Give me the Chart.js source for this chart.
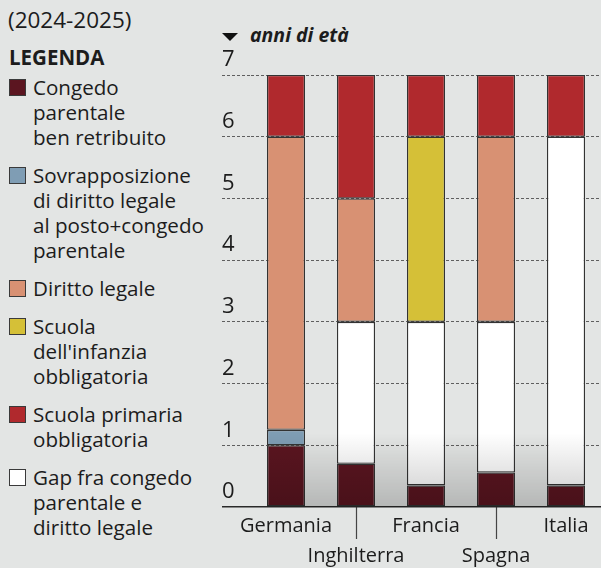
<!DOCTYPE html>
<html>
<head>
<meta charset="utf-8">
<script src="https://cdn.jsdelivr.net/npm/chart.js@4.4.1/dist/chart.umd.min.js"></script>
<style>
  html, body { margin: 0; padding: 0; }
  body {
    width: 601px; height: 568px; overflow: hidden; position: relative;
    background: #e3e5e4; color: #1c1c1c;
    font-family: 'Open Sans', sans-serif;
  }
  #periodo { position: absolute; left: 8px; top: 6px; font-size: 22.5px; line-height: 28px; }
  #legTitle { position: absolute; left: 9px; top: 45px; font-size: 20.5px; line-height: 25px; font-weight: 700; }
  #legenda { position: absolute; left: 9px; top: 75px; width: 200px; }
  .voce { position: relative; padding-left: 24px; font-size: 20.6px; line-height: 25px; margin-bottom: 13px; }
  .voce .box { position: absolute; left: 0; top: 4px; width: 15px; height: 15px; border: 1px solid #3a3a3a; }
  #unita { position: absolute; left: 222px; top: 22px; font-size: 19.5px; line-height: 26px; font-weight: 700; font-style: italic; }
  #unita .tri { display: inline-block; width: 0; height: 0; margin-right: 12px; vertical-align: middle;
    border-left: 8px solid transparent; border-right: 8px solid transparent; border-top: 8px solid #111; }
  #wrap { position: absolute; left: 205px; top: 0; width: 396px; height: 568px; }
</style>
</head>
<body>
<div id="periodo">(2024-2025)</div>
<div id="legTitle">LEGENDA</div>
<div id="legenda"></div>
<div id="unita"><span class="tri"></span>anni di età</div>
<div id="wrap"><canvas id="chart" width="396" height="568"></canvas></div>

<script>
// anni di età coperti da ciascuna voce (segmenti impilati, dal basso)
const paesi = ['Germania', 'Inghilterra', 'Francia', 'Spagna', 'Italia'];
const congedo         = [1.0, 0.7, 0.35, 0.56, 0.35];
const sovrapposizione = [0.25, null, null, null, null];
const gap             = [null, 2.3, 2.65, 2.44, 5.65];
const dirittoLegale   = [4.75, 2, null, 3, null];
const infanzia        = [null, null, 3, null, null];
const primaria        = [1, 2, 1, 1, 1];
const yMax = 7;

// ordine di impilamento
const serie = [
  {righe: ['Congedo', 'parentale', 'ben retribuito'], dati: congedo, colore: '#5b1520'},
  {righe: ['Sovrapposizione', 'di diritto legale', 'al posto+congedo', 'parentale'], dati: sovrapposizione, colore: '#7f9db4'},
  {righe: ['Gap fra congedo', 'parentale e', 'diritto legale'], dati: gap, colore: '#ffffff'},
  {righe: ['Diritto legale'], dati: dirittoLegale, colore: '#d89173'},
  {righe: ['Scuola', "dell'infanzia", 'obbligatoria'], dati: infanzia, colore: '#d5c037'},
  {righe: ['Scuola primaria', 'obbligatoria'], dati: primaria, colore: '#b0292d'},
];
const ordineLegenda = [0, 1, 3, 4, 5, 2];

// legenda html
const leg = document.getElementById('legenda');
ordineLegenda.forEach(i => {
  const s = serie[i];
  const d = document.createElement('div');
  d.className = 'voce';
  d.innerHTML = '<span class="box" style="background:' + s.colore + '"></span>' + s.righe.join('<br>');
  leg.appendChild(d);
});

Chart.defaults.font.family = "'Open Sans', sans-serif";
Chart.defaults.font.size = 20;
Chart.defaults.color = '#1c1c1c';

// ombreggiatura in fondo alle colonne
const sfumatura = {
  id: 'sfumatura',
  afterDatasetsDraw(chart) {
    const bars = chart.getDatasetMeta(0).data;
    if (!bars.length) return;
    const y = chart.scales.y;
    const x0 = bars[0].x - bars[0].width / 2;
    const x1 = bars[bars.length - 1].x + bars[bars.length - 1].width / 2;
    const top = y.getPixelForValue(1.2), bot = y.getPixelForValue(0);
    const ctx = chart.ctx;
    const g = ctx.createLinearGradient(0, top, 0, bot);
    g.addColorStop(0, 'rgba(0,0,0,0)');
    g.addColorStop(1, 'rgba(0,0,0,0.2)');
    ctx.save();
    ctx.fillStyle = g;
    ctx.fillRect(x0, top, x1 - x0, bot - top);
    ctx.restore();
  }
};

const zero = c => c.tick && c.tick.value === 0;

new Chart(document.getElementById('chart'), {
  type: 'bar',
  data: {
    labels: paesi,
    datasets: serie.map(s => ({
      label: s.righe.join(' '),
      data: s.dati,
      backgroundColor: s.colore,
      borderColor: '#333',
      borderWidth: 1.3,
      borderSkipped: false,
      barPercentage: 38 / 70,
      categoryPercentage: 1,
    }))
  },
  options: {
    responsive: false,
    animation: false,
    layout: {padding: {left: 17, top: 75, right: 0, bottom: 0}},
    plugins: {legend: {display: false}, tooltip: {enabled: true}},
    scales: {
      x: {
        stacked: true,
        afterFit: s => { s.height = 61; },
        border: {display: false},
        grid: {
          offset: false,
          drawOnChartArea: false,
          drawTicks: true,
          tickLength: 32,
          tickWidth: 1.2,
          tickColor: c => (c.index % 2 ? '#444' : 'rgba(0,0,0,0)'),
        },
        ticks: {
          autoSkip: false,
          maxRotation: 0,
          padding: -28,
          font: {size: 20, lineHeight: 1.5},
          callback: (v, i) => (i % 2 ? ['', paesi[i]] : paesi[i]),
        }
      },
      y: {
        stacked: true,
        min: 0,
        max: yMax,
        afterFit: s => { s.width = 29; },
        border: {
          display: false,
          dash: c => (zero(c) ? [] : [3, 2]),
        },
        grid: {
          drawTicks: true,
          tickLength: 29,
          color: c => (zero(c) ? '#2a2a2a' : '#5f5f5f'),
          tickColor: c => (zero(c) ? '#2a2a2a' : '#5f5f5f'),
          lineWidth: c => (zero(c) ? 1.5 : 1),
          tickWidth: c => (zero(c) ? 1.5 : 1),
          tickBorderDash: c => (zero(c) ? [] : [3, 2]),
        },
        ticks: {
          stepSize: 1,
          crossAlign: 'far',
          labelOffset: -15,
          font: {size: 22},
        }
      }
    }
  },
  plugins: [sfumatura]
});
</script>
</body>
</html>
